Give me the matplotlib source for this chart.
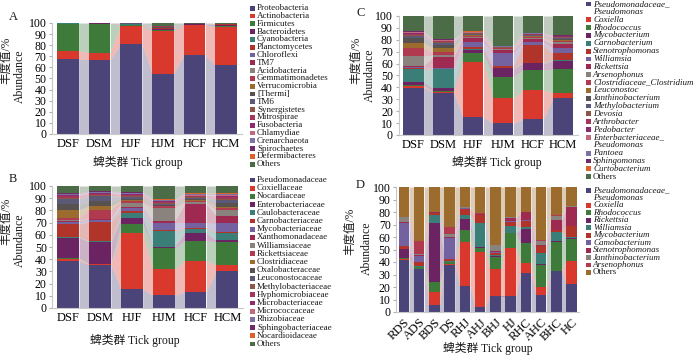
import numpy as np
import matplotlib
matplotlib.use("Agg")
import matplotlib.pyplot as plt
from matplotlib.patches import Rectangle

W, H = 700, 355

# shared colour order (same for every panel)
palette = ["#4b4478", "#d9382c", "#3e7b3b", "#6b2461", "#3b7d77", "#b0342a", "#7361a0",
           "#9e2a52", "#8a827c", "#b03a4e", "#9c6b2e", "#57524f", "#5b5878", "#8d5646",
           "#a3375a", "#8e2a6e", "#c06b7e", "#7d72a6", "#6e2c66", "#e0622a", "#4c6c48"]

tick_groups = ["DSF", "DSM", "HJF", "HJM", "HCF", "HCM"]
sub_groups = ["RDS", "ADS", "BDS", "DS", "RHJ", "AHJ", "BHJ", "HJ", "RHC", "AHC", "BHC", "HC"]

# A: phylum level
phylum_names = ["Proteobacteria", "Actinobacteria", "Firmicutes", "Bacteroidetes", "Cyanobacteria",
                "Planctomycetes", "Chloroflexi", "TM7", "Acidobacteria", "Gemmatimonadetes",
                "Verrucomicrobia", "[Thermi]", "TM6", "Synergistetes", "Mitrospirae", "Fusobacteria",
                "Chlamydiae", "Crenarchaeota", "Spirochaetes", "Defermibacteres", "Others"]
phylum_values = [
    [67.5, 66.8, 80.8, 54.5, 70.8, 62.2],
    [7.5, 6.6, 16.5, 38.0, 27.4, 34.2],
    [24.3, 26.0, 0.5, 1.5, 0.3, 0.5],
    [0.2, 0.2, 0.8, 0.6, 0.6, 1.6],
    [0.1, 0.1, 0.1, 0.3, 0.1, 0.1],
    [0.0, 0.0, 0.1, 0.2, 0.1, 0.1],
    [0.0, 0.0, 0.1, 0.2, 0.1, 0.1],
    [0.0, 0.0, 0.1, 0.1, 0.0, 0.1],
    [0.0, 0.0, 0.1, 0.2, 0.1, 0.0],
    [0.0, 0.0, 0.1, 0.1, 0.0, 0.0],
    [0.0, 0.0, 0.1, 0.1, 0.0, 0.0],
    [0.0, 0.0, 0.2, 0.8, 0.1, 0.1],
    [0.0, 0.0, 0.1, 0.1, 0.0, 0.0],
    [0.0, 0.0, 0.0, 0.1, 0.0, 0.0],
    [0.0, 0.0, 0.0, 0.1, 0.0, 0.0],
    [0.0, 0.0, 0.0, 0.0, 0.0, 0.0],
    [0.0, 0.0, 0.0, 0.1, 0.0, 0.0],
    [0.0, 0.0, 0.0, 0.1, 0.0, 0.0],
    [0.0, 0.0, 0.0, 0.0, 0.0, 0.0],
    [0.0, 0.0, 0.0, 0.0, 0.0, 0.0],
    [0.4, 0.3, 0.4, 2.9, 0.4, 0.9],
]

# B: family level
family_names = ["Pseudomonadaceae", "Coxiellaceae", "Nocardiaceae", "Enterobacteriaceae",
                "Caulobacteraceae", "Carnobacteriaceae", "Mycobacteriaceae", "Xanthomonadaceae",
                "Williamsiaceae", "Rickettsiaceae", "Clostridiaceae", "Oxalobacteraceae",
                "Leuconostocaceae", "Methylobacteriaceae", "Hyphomicrobiaceae", "Microbacteriaceae",
                "Micrococcaceae", "Rhizobiaceae", "Sphingobacteriaceae", "Nocardioidaceae", "Others"]
family_values = [
    [38.5, 35.5, 15.5, 10.4, 13.1, 30.3],
    [1.4, 0.5, 46.0, 21.3, 25.4, 4.9],
    [1.0, 0.3, 7.2, 17.2, 16.4, 19.2],
    [16.8, 17.8, 5.4, 1.4, 6.3, 1.0],
    [0.5, 0.6, 4.0, 12.8, 3.3, 6.3],
    [10.5, 16.0, 1.0, 0.8, 0.8, 0.8],
    [2.0, 1.2, 2.5, 6.0, 4.5, 6.8],
    [1.0, 0.8, 1.0, 1.2, 15.2, 6.2],
    [0.8, 0.5, 3.5, 11.0, 1.5, 4.5],
    [1.5, 7.0, 1.5, 1.2, 1.2, 2.0],
    [6.5, 3.5, 0.6, 0.4, 0.5, 1.0],
    [4.5, 4.0, 1.5, 1.0, 1.0, 3.0],
    [4.5, 4.0, 1.2, 0.8, 0.8, 2.5],
    [0.8, 0.6, 1.0, 0.8, 0.8, 1.0],
    [1.2, 1.0, 0.8, 0.8, 0.8, 1.5],
    [0.8, 0.7, 0.6, 0.5, 0.6, 0.8],
    [0.6, 0.5, 0.4, 0.4, 0.5, 0.6],
    [0.8, 0.6, 0.8, 0.5, 0.6, 0.8],
    [0.5, 0.4, 0.5, 0.4, 0.5, 0.6],
    [0.3, 0.2, 0.2, 0.2, 0.4, 0.3],
    [5.5, 4.3, 4.8, 10.9, 5.8, 5.9],
]

# C: genus level
genus_names = ["Pseudomonadaceae_\nPseudomonas", "Coxiella", "Rhodococcus", "Mycobacterium",
               "Carnobacterium", "Stenotrophomonas", "Williamsia", "Rickettsia", "Arsenophonus",
               "Clostridiaceae_Clostridium", "Leuconostoc", "Janthinobacterium", "Methylobacterium",
               "Devosia", "Arthrobacter", "Pedobacter", "Enterbacteriaceae_\nPseudomonas", "Pantoea",
               "Sphingomonas", "Curtobacterium", "Others"]
genus_values = [
    [39.8, 35.6, 14.8, 9.8, 13.2, 30.8],
    [1.2, 0.6, 46.8, 21.0, 24.6, 4.8],
    [0.8, 0.4, 7.0, 18.2, 16.8, 19.6],
    [2.5, 2.6, 2.8, 7.0, 5.6, 7.3],
    [10.9, 16.0, 0.5, 0.5, 0.6, 0.5],
    [1.5, 0.6, 2.3, 1.5, 14.8, 5.6],
    [0.5, 0.5, 4.2, 11.0, 2.6, 4.6],
    [0.8, 9.5, 2.8, 2.4, 2.2, 3.2],
    [8.5, 1.2, 1.0, 0.5, 1.0, 1.5],
    [6.5, 2.5, 1.0, 0.8, 1.0, 1.5],
    [4.5, 4.0, 0.5, 0.2, 0.4, 0.5],
    [3.9, 2.0, 0.6, 0.3, 0.5, 1.0],
    [2.0, 2.0, 0.6, 0.3, 0.5, 0.8],
    [1.0, 0.8, 0.5, 0.2, 0.4, 0.6],
    [0.8, 0.6, 0.4, 0.2, 0.3, 0.4],
    [0.5, 0.4, 0.3, 0.2, 0.3, 0.3],
    [0.5, 0.4, 0.3, 0.2, 0.3, 0.3],
    [0.5, 0.4, 0.3, 0.2, 0.3, 0.3],
    [0.3, 0.3, 0.2, 0.1, 0.2, 0.2],
    [0.2, 0.2, 0.1, 0.1, 0.1, 0.1],
    [12.8, 19.4, 13.0, 25.3, 14.3, 16.1],
]

# D: genus level by sub group
sub_names = ["Pseudomonadaceae_\nPseudomonas", "Coxiella", "Rhodococcus", "Rickettsia", "Williamsia",
             "Mycobacterium", "Camobacterium", "Stenotrophomonas", "Janthinobacterium",
             "Arsenophonus", "Others"]
sub_values = [
    [41.6, 34.1, 5.3, 38.0, 20.8, 4.3, 12.5, 12.5, 30.9, 13.6, 32.8, 22.4],
    [0.5, 0.3, 11.0, 0.3, 35.5, 44.0, 21.6, 39.0, 8.0, 6.7, 0.3, 18.4],
    [1.0, 1.5, 8.0, 1.5, 9.3, 2.6, 10.2, 11.4, 16.0, 17.3, 23.2, 17.3],
    [7.3, 0.3, 47.2, 0.5, 8.5, 0.8, 0.8, 0.6, 11.2, 0.8, 0.5, 0.8],
    [0.3, 0.3, 6.1, 0.3, 3.5, 19.5, 0.5, 5.3, 1.6, 9.1, 7.0, 1.5],
    [2.3, 3.5, 1.5, 2.0, 4.8, 6.5, 1.5, 3.2, 5.3, 5.3, 1.9, 8.3],
    [18.0, 4.6, 0.3, 17.0, 0.5, 0.3, 1.0, 0.5, 0.3, 0.3, 0.3, 0.3],
    [1.3, 0.8, 0.3, 0.8, 0.5, 0.3, 0.5, 2.9, 6.4, 0.5, 7.5, 15.0],
    [3.4, 1.0, 0.2, 2.0, 0.5, 0.3, 5.0, 0.3, 0.2, 3.5, 3.5, 0.5],
    [0.3, 10.4, 0.3, 6.0, 0.3, 0.5, 0.3, 0.3, 0.1, 0.3, 0.8, 0.5],
    [24.0, 43.2, 19.8, 31.6, 15.8, 20.9, 46.1, 24.0, 20.0, 42.6, 22.2, 15.0],
]

plt.rcParams["font.family"] = ["Liberation Serif", "Noto Sans CJK SC"]
plt.rcParams["text.color"] = "#1a1a1a"


def fx(x):
    return x / W


def fy(y):
    return 1 - y / H


def stacked(ax, values, colors, width=0.68):
    vals = np.array(values, dtype=float)
    n = vals.shape[1]
    x = np.arange(n)
    tops = np.cumsum(vals, axis=0)
    bottoms = tops - vals
    for i, c in enumerate(colors):
        ax.bar(x, vals[i], width, bottom=bottoms[i], color=c, linewidth=0, zorder=2)
        # faded band joining the same taxon in neighbouring bars
        for j in range(n - 1):
            ax.fill_between([x[j] + width / 2, x[j + 1] - width / 2],
                            [bottoms[i, j], bottoms[i, j + 1]],
                            [tops[i, j], tops[i, j + 1]],
                            color=c, alpha=0.35, linewidth=0, zorder=1)


def style_axes(ax, ticks, rotate=False):
    ax.set_xlim(-0.5, len(ticks) - 0.5)
    ax.set_ylim(0, 100)
    ax.set_yticks(range(0, 101, 10))
    ax.set_xticks(range(len(ticks)))
    if rotate:
        ax.set_xticklabels(ticks, rotation=45, ha="right", va="top", rotation_mode="anchor", fontsize=9)
    else:
        ax.set_xticklabels(ticks, fontsize=9)
    ax.tick_params(axis="y", labelsize=8.5, length=2.5, color="#b0b0b0", pad=1.5)
    ax.tick_params(axis="x", length=0, pad=3)
    for s in ["top", "right"]:
        ax.spines[s].set_visible(False)
    for s in ["left", "bottom"]:
        ax.spines[s].set_color("#c8c8c8")
        ax.spines[s].set_linewidth(0.8)


def legend(fig, names, colors, x_text, y_first, pitch, italic=False):
    line = 0
    for name, c in zip(names, colors):
        parts = name.split("\n")
        y = y_first + line * pitch
        fig.patches.append(Rectangle((fx(x_text - 7), fy(y + 2.4)), 4.8 / W, 4.8 / H,
                                     transform=fig.transFigure, facecolor=c, edgecolor="none"))
        style = "italic" if italic and name != "Others" else "normal"
        for k, p in enumerate(parts):
            fig.text(fx(x_text), fy(y + k * pitch), p, fontsize=6.5, va="center", ha="left",
                     style=style)
        line += len(parts)


def side_labels(fig, letter, letter_xy, ylab_x, ylab_y, xlab_xy):
    fig.text(fx(letter_xy[0]), fy(letter_xy[1]), letter, fontsize=9, ha="center", va="center")
    fig.text(fx(ylab_x[0]), fy(ylab_y[0]), "丰度值/%", fontsize=8.3, rotation=90,
             ha="center", va="center")
    fig.text(fx(ylab_x[1]), fy(ylab_y[1]), "Abundance", fontsize=8.5, rotation=90,
             ha="center", va="center")
    fig.text(fx(xlab_xy[0]), fy(xlab_xy[1]), "蜱类群 Tick group", fontsize=8.5,
             ha="center", va="center")


fig = plt.figure(figsize=(7, 3.55), dpi=100)

axA = fig.add_axes([fx(52), fy(134), 190 / W, 111 / H])
stacked(axA, phylum_values, palette)
style_axes(axA, tick_groups)

axB = fig.add_axes([fx(52.4), fy(308), 190.8 / W, 122 / H])
stacked(axB, family_values, palette)
style_axes(axB, tick_groups)

axC = fig.add_axes([fx(398.5), fy(135), 179.5 / W, 119 / H])
stacked(axC, genus_values, palette)
style_axes(axC, tick_groups)

axD = fig.add_axes([fx(396.2), fy(312), 183 / W, 125 / H])
stacked(axD, sub_values, palette[:11])
style_axes(axD, sub_groups, rotate=True)

side_labels(fig, "A", (13, 17), (6, 19.5), (60, 76), (138, 162))
side_labels(fig, "B", (13, 179), (6, 19.5), (221, 240), (135, 340))
side_labels(fig, "C", (361, 13), (356, 369.5), (60, 75), (497, 162))
side_labels(fig, "D", (360, 185), (350, 366.5), (231, 248), (488, 348))

legend(fig, phylum_names, palette, 257, 8.3, 7.79)
legend(fig, family_names, palette, 257, 180, 8.2)
legend(fig, genus_names, palette, 593, 4, 7.85, italic=True)
legend(fig, sub_names, palette[:11], 593, 190.5, 7.45, italic=True)

fig.savefig("out.png", dpi=100)
